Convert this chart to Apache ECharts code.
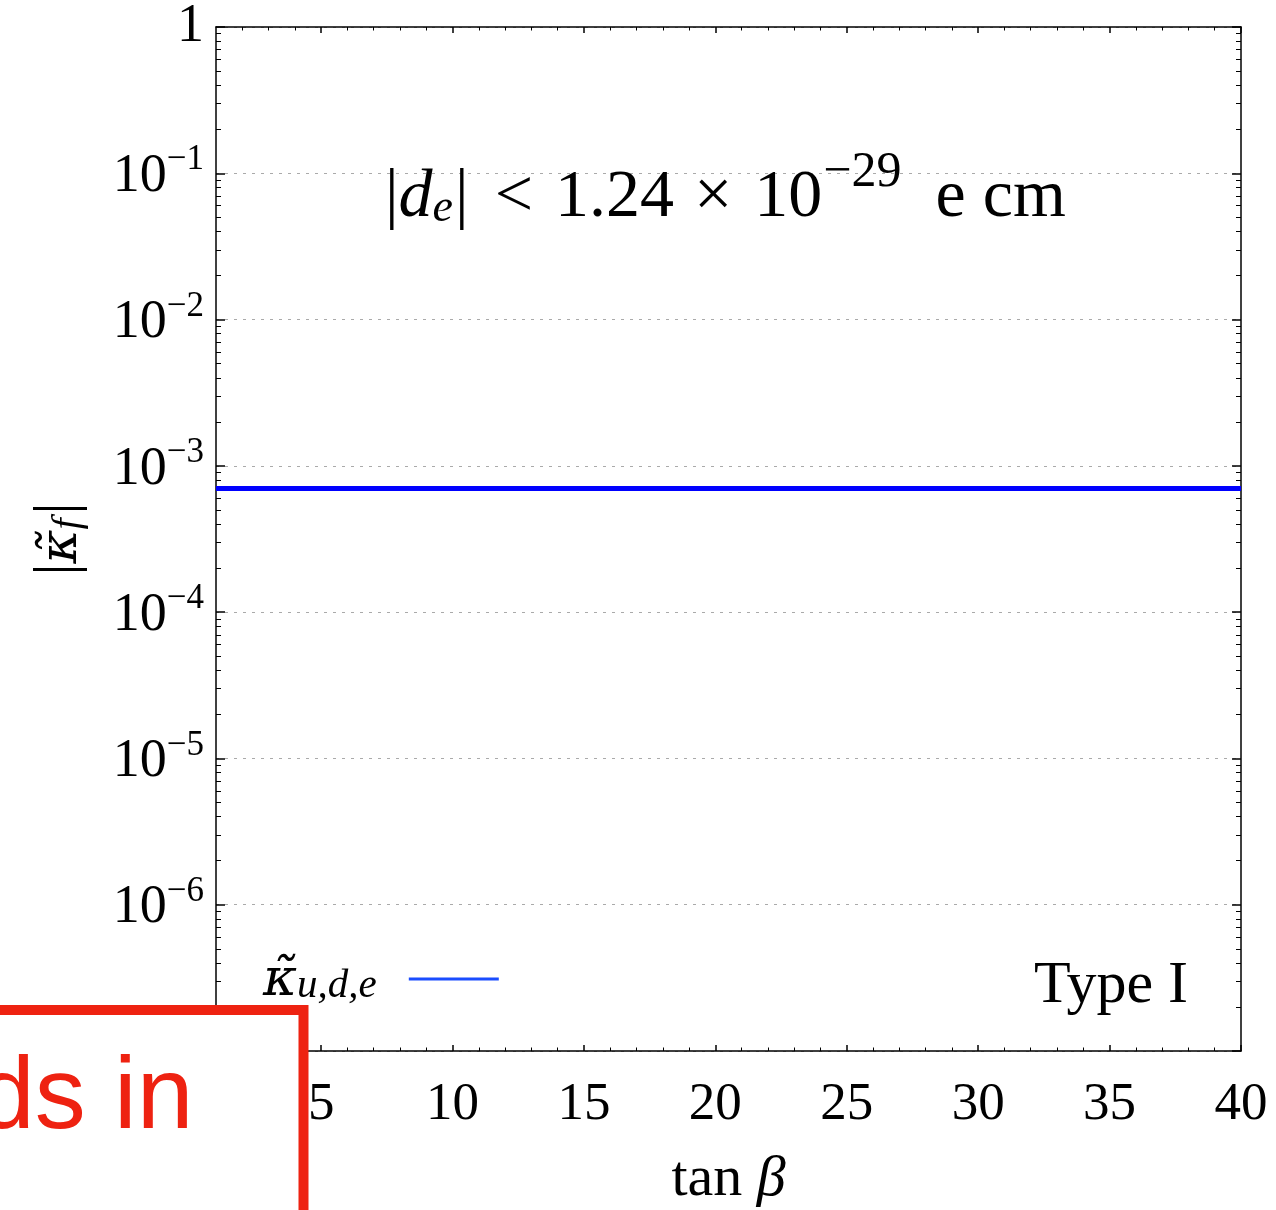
<!DOCTYPE html>
<html>
<head>
<meta charset="utf-8">
<script src="https://cdn.jsdelivr.net/npm/echarts@6/dist/echarts.min.js"></script>
<style>
html, body { margin: 0; padding: 0; background: #fff; }
#main { width: 1276px; height: 1210px; }
</style>
</head>
<body>
<div id="main"></div>
<script>
// values
var tanBeta = [1, 40];
var kappaBound = [7.0e-4, 7.0e-4];
var xMajor = [5, 10, 15, 20, 25, 30, 35, 40];
var yMajor = [1e-7, 1e-6, 1e-5, 1e-4, 1e-3, 1e-2, 1e-1, 1];

// minor tick positions (1 unit on x, 2..9 per decade on y)
var xMinor = [];
for (var i = 2; i < 40; i++) { if (i % 5 !== 0) xMinor.push(i); }
var yMinor = [];
for (var p = -7; p < 0; p++) {
	for (var m = 2; m <= 9; m++) yMinor.push(m * Math.pow(10, p));
}

var serif = 'Liberation Serif';
var greek = 'DejaVu Serif';
var black = '#000';

function decadeLabel(v) {
	var e = Math.round(Math.log(v) / Math.LN10);
	if (e === 0) return '{b|1}';
	return '{b|10}{sup|\u2212' + (-e) + '}';
}

var lineData = [];
for (var k = 0; k < tanBeta.length; k++) lineData.push([tanBeta[k], kappaBound[k]]);

var chart = echarts.init(document.getElementById('main'));

function xAxisOf(pos, major) {
	return {
		type: 'value', position: pos, min: 1, max: 40,
		axisLine: { show: major, lineStyle: { color: black, width: 1.5 } },
		axisTick: { show: true, inside: true, length: major ? 6 : 3.5, customValues: major ? xMajor : xMinor,
			lineStyle: { color: black, width: major ? 1.5 : 1 } },
		axisLabel: { show: false },
		splitLine: { show: false }
	};
}
function yAxisOf(pos, major) {
	return {
		type: 'log', logBase: 10, position: pos, min: 1e-7, max: 1,
		axisLine: { show: major, lineStyle: { color: black, width: 1.5 } },
		axisTick: major ? { show: true, inside: true, length: 9, lineStyle: { color: black, width: 1.5 } }
			: { show: true, inside: true, length: 5, customValues: yMinor, lineStyle: { color: black, width: 1 } },
		interval: major ? 1 : undefined,
		axisLabel: { show: false },
		splitLine: { show: false }
	};
}

var xBottom = xAxisOf('bottom', true);
xBottom.axisLabel = {
	show: true, customValues: xMajor, margin: 28, color: black,
	fontFamily: serif, fontSize: 53
};
xBottom.name = '{r|tan }{i|\u03b2}';
xBottom.nameLocation = 'middle';
xBottom.nameGap = 100;
xBottom.nameTextStyle = {
	rich: {
		r: { fontFamily: serif, fontSize: 58, color: black },
		i: { fontFamily: serif, fontSize: 58, fontStyle: 'italic', color: black }
	}
};

var yLeft = yAxisOf('left', true);
yLeft.axisLabel = {
	show: true, formatter: decadeLabel, margin: 12, color: black,
	rich: {
		b: { fontFamily: serif, fontSize: 54, lineHeight: 54, verticalAlign: 'bottom', color: black },
		sup: { fontFamily: serif, fontSize: 35, padding: [0, 0, 26, 0], verticalAlign: 'bottom', color: black }
	}
};
yLeft.splitLine = { show: true, lineStyle: { color: '#aaaaaa', width: 1, type: [3, 6] } };
yLeft.name = '{n||}{i|\u03ba\u0303}{sub|f}{n||}';
yLeft.nameLocation = 'middle';
yLeft.nameGap = 128;
yLeft.nameRotate = 90;
yLeft.nameTextStyle = {
	rich: {
		n: { fontFamily: serif, fontSize: 60, lineHeight: 60, verticalAlign: 'bottom', color: black },
		i: { fontFamily: greek, fontSize: 52, lineHeight: 60, fontStyle: 'italic', verticalAlign: 'bottom', color: black },
		sub: { fontFamily: serif, fontSize: 40, lineHeight: 30, fontStyle: 'italic', verticalAlign: 'bottom', color: black, padding: [0, 4, 0, 0] }
	}
};

var titleRich = {
	n: { fontFamily: serif, fontSize: 68, lineHeight: 68, fontWeight: 'normal', verticalAlign: 'bottom', color: black },
	i: { fontFamily: serif, fontSize: 68, lineHeight: 68, fontWeight: 'normal', fontStyle: 'italic', verticalAlign: 'bottom', color: black },
	sub: { fontFamily: serif, fontSize: 46, lineHeight: 30, fontWeight: 'normal', fontStyle: 'italic', verticalAlign: 'bottom', color: black, padding: [0, 2, 0, 0] },
	lt: { fontFamily: serif, fontSize: 68, lineHeight: 68, fontWeight: 'normal', verticalAlign: 'bottom', color: black, padding: [0, 22, 0, 26] },
	x: { fontFamily: serif, fontSize: 68, lineHeight: 68, fontWeight: 'normal', verticalAlign: 'bottom', color: black, padding: [0, 22, 0, 20] },
	sup: { fontFamily: serif, fontSize: 50, fontWeight: 'normal', padding: [0, 14, 34, 1], verticalAlign: 'bottom', color: black },
	u: { fontFamily: serif, fontSize: 68, lineHeight: 68, fontWeight: 'normal', verticalAlign: 'bottom', color: black, padding: [0, 0, 0, 20] }
};

chart.setOption({
	animation: false,
	backgroundColor: '#fff',
	grid: { left: 216, right: 35, top: 27, bottom: 159, containLabel: false, outerBoundsMode: 'none' },
	title: [{
		text: '{n||}{i|d}{sub|e}{n||}{lt|<}{n|1.24}{x|\u00d7}{n|10}{sup|\u221229}{u|e cm}',
		left: 385, top: 148, padding: 0,
		textStyle: { fontWeight: 'normal', rich: titleRich }
	}, {
		text: 'Type I',
		left: 1034, top: 956, padding: 0,
		textStyle: { fontFamily: serif, fontSize: 60, fontWeight: 'normal', color: black }
	}],
	legend: {
		left: 258, top: 950, align: 'right', orient: 'horizontal',
		icon: 'rect', itemWidth: 90, itemHeight: 3,
		data: [{ name: 'kappa', itemStyle: { color: '#1a4dff' } }],
		formatter: function () { return '{i|\u03ba\u0303}{sub|u,d,e}'; },
		textStyle: {
			rich: {
				i: { fontFamily: greek, fontSize: 52, lineHeight: 56, fontStyle: 'italic', verticalAlign: 'bottom', color: black },
				sub: { fontFamily: serif, fontSize: 41, lineHeight: 26, fontStyle: 'italic', verticalAlign: 'bottom', color: black, padding: [0, 27, 0, 0] }
			}
		}
	},
	xAxis: [xBottom, xAxisOf('bottom', false), xAxisOf('top', true), xAxisOf('top', false)],
	yAxis: [yLeft, yAxisOf('left', false), yAxisOf('right', true), yAxisOf('right', false)],
	series: [{
		name: 'kappa', type: 'line', xAxisIndex: 0, yAxisIndex: 0,
		data: lineData, symbol: 'none', showSymbol: false,
		lineStyle: { color: '#0000ff', width: 5 },
		itemStyle: { color: '#0000ff' }, z: 5
	}],
	graphic: [{
		type: 'rect', z: 100,
		shape: { x: -20, y: 1010, width: 323.5, height: 300 },
		style: { fill: '#fff', stroke: '#ee2211', lineWidth: 10 }
	}, {
		type: 'text', z: 101, x: -22, y: 1151,
		style: { text: 'ds in', font: '102px "Liberation Sans"', fill: '#ee2211', verticalAlign: 'bottom' }
	}]
});
</script>
</body>
</html>
